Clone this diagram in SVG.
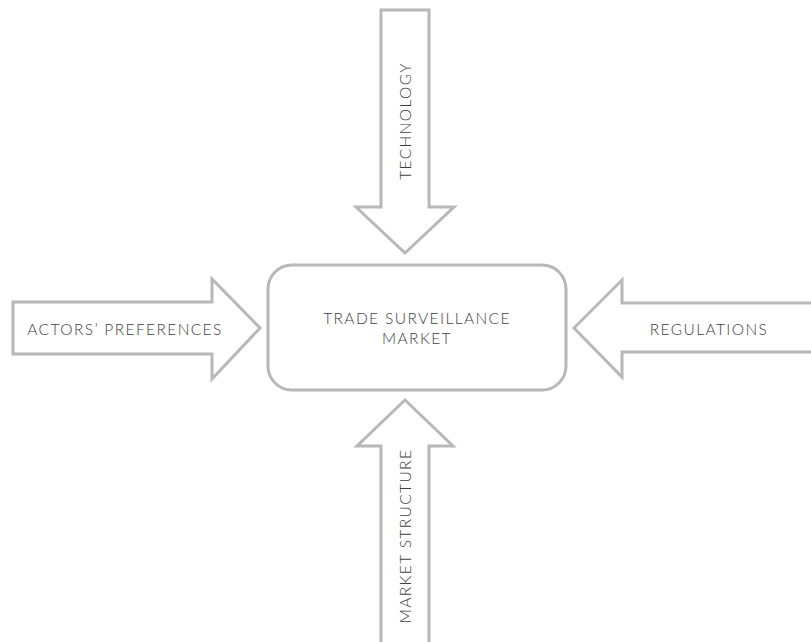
<svg xmlns="http://www.w3.org/2000/svg" width="811" height="642" viewBox="0 0 811 642">
<style>
.shape{fill:#fff;stroke:#b8b8b8;stroke-width:3;stroke-linejoin:miter}
.lbl{font-family:Lato,"Open Sans",sans-serif;font-size:15.5px;font-weight:300;fill:#404040;letter-spacing:1.4px;text-anchor:middle}
</style>
<rect width="811" height="642" fill="#fff"/>
<g id="connectors">
<g id="technology">
<polygon class="shape" points="381,10 429,10 429,207 454,207 405,253 356,207 381,207"/>
<text class="lbl" transform="translate(411,121) rotate(-90)">TECHNOLOGY</text>
</g>
<g id="market-structure">
<polygon class="shape" points="405,400 453,446 429,446 429,650 381,650 381,446 357,446"/>
<text class="lbl" transform="translate(411,536) rotate(-90)">MARKET STRUCTURE</text>
</g>
<g id="actors-preferences">
<polygon class="shape" points="13,302 212,302 212,279 260,328 212,379 212,354 13,354"/>
<text class="lbl" x="125" y="335">ACTORS’ PREFERENCES</text>
</g>
<g id="regulations">
<polygon class="shape" points="574,328 622,280 622,303 820,303 820,352 622,352 622,377"/>
<text class="lbl" x="709" y="335">REGULATIONS</text>
</g>
</g>
<g id="market">
<rect class="shape" x="268" y="265" width="298" height="125" rx="24"/>
<text class="lbl" x="417" y="324">TRADE SURVEILLANCE</text>
<text class="lbl" x="417" y="344">MARKET</text>
</g>
</svg>
